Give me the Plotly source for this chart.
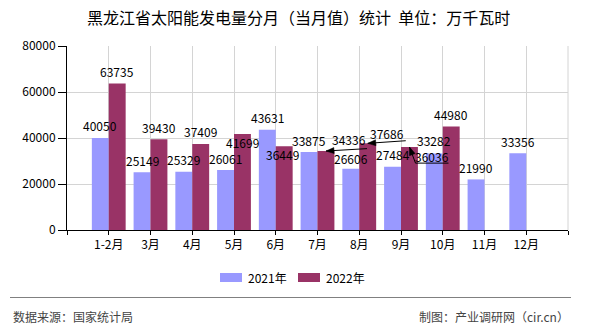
import math
import plotly.graph_objects as go

# ---- data -------------------------------------------------------------
months = ["1-2月", "3月", "4月", "5月", "6月", "7月", "8月", "9月", "10月", "11月", "12月"]
series_names = ["2021年", "2022年"]
values_2021 = [40050, 25149, 25329, 26061, 43631, 33875, 26606, 27484, 33282, 21990, 33356]
values_2022 = [63735, 39430, 37409, 41699, 36449, 34336, 37686, 36036, 44980, None, None]
y_ticks = [0, 20000, 40000, 60000, 80000]

# ---- style ------------------------------------------------------------
W, H = 590, 330
ML, MR, MT, MB = 67, 22, 46, 100
FONT = "Noto Sans CJK SC, Noto Sans, sans-serif"
C2021 = "#9999FF"
C2022 = "#993366"
BAR_HALF = 8.5          # px from slot centre to each bar's centre
LABEL_DY = 12           # default label lift above a bar top (px, up)

# per-label nudges for crowded spots: index -> (dx, dy) in px (dy up)
nudge_2021 = {6: (0, 10.5), 8: (0, 13)}
nudge_2022 = {3: (0, -8), 4: (-1.5, -8), 5: (23, 11.5), 6: (19.5, 9.8), 7: (22, -9.5)}
# leader polylines from the bar top (px offsets, y up); first point gets the arrowhead
leaders_2022 = {
    5: [(0, 0), (41, 2.4)],
    6: [(0, 0), (38, 2.6)],
    7: [(0, 0), (6, -16), (39, -16)],
}
HEAD_LEN, HEAD_HALF_W = 8, 3

plot_w = W - ML - MR
plot_h = H - MT - MB


def px_x(px):
    return (px - ML) / plot_w


def px_y(py):
    return (H - MB - py) / plot_h


xs = list(range(len(months)))

fig = go.Figure()
fig.add_trace(go.Bar(x=xs, y=values_2021, name=series_names[0],
                     marker=dict(color=C2021, line=dict(width=0)), showlegend=False))
fig.add_trace(go.Bar(x=xs, y=values_2022, name=series_names[1],
                     marker=dict(color=C2022, line=dict(width=0)), showlegend=False))

annotations = []
shapes = []


def value_label(i, v, side, dx=0.0, dy=LABEL_DY):
    annotations.append(dict(
        x=i, y=v, xref="x", yref="y", text=str(v), showarrow=False,
        xanchor="center", yanchor="middle",
        xshift=side * BAR_HALF + dx, yshift=dy,
        font=dict(family=FONT, size=12, color="#000000"),
    ))


def leader(i, v, pts):
    """Polyline anchored at a bar top, with a filled arrowhead at its first point."""
    pts = [(BAR_HALF + px, py) for px, py in pts]
    line_path = "M " + " L ".join(f"{px:.2f},{py:.2f}" for px, py in pts)
    common = dict(xref="x", yref="y", xsizemode="pixel", ysizemode="pixel",
                  xanchor=i, yanchor=v)
    shapes.append(dict(type="path", path=line_path,
                       line=dict(color="#000000", width=1), **common))
    (hx, hy), (nx, ny) = pts[0], pts[1]
    d = math.hypot(nx - hx, ny - hy)
    ux, uy = (nx - hx) / d, (ny - hy) / d
    bx, by = hx + ux * HEAD_LEN, hy + uy * HEAD_LEN
    px_, py_ = -uy * HEAD_HALF_W, ux * HEAD_HALF_W
    head_path = (f"M {hx:.2f},{hy:.2f} L {bx + px_:.2f},{by + py_:.2f} "
                 f"L {bx - px_:.2f},{by - py_:.2f} Z")
    shapes.append(dict(type="path", path=head_path, fillcolor="#000000",
                       line=dict(color="#000000", width=0.5), **common))


for i, v in enumerate(values_2021):
    if v is not None:
        dx, dy = nudge_2021.get(i, (0, LABEL_DY))
        value_label(i, v, -1, dx, dy)

for i, v in enumerate(values_2022):
    if v is None:
        continue
    dx, dy = nudge_2022.get(i, (0, LABEL_DY))
    value_label(i, v, +1, dx, dy)
    if i in leaders_2022:
        leader(i, v, leaders_2022[i])

# title
annotations.append(dict(
    xref="paper", yref="paper", x=px_x(298), y=px_y(17),
    text="黑龙江省太阳能发电量分月（当月值）统计  单位：万千瓦时",
    showarrow=False, xanchor="center", yanchor="middle",
    font=dict(family=FONT, size=16, color="#000000"),
))

# legend
legend_items = [(series_names[0], C2021, 220), (series_names[1], C2022, 298)]
for name, color, x0 in legend_items:
    shapes.append(dict(type="rect", xref="paper", yref="paper",
                       x0=px_x(x0), x1=px_x(x0 + 22), y0=px_y(282), y1=px_y(273),
                       fillcolor=color, line=dict(width=0)))
    annotations.append(dict(
        xref="paper", yref="paper", x=px_x(x0 + 26), y=px_y(277.5),
        text=name, showarrow=False, xanchor="left", yanchor="middle",
        font=dict(family=FONT, size=12, color="#000000"),
    ))

# right frame edge
shapes.append(dict(type="line", xref="paper", yref="paper", x0=1, x1=1, y0=0, y1=1,
                   line=dict(color="#d4d4d4", width=1), layer="below"))

# footer
shapes.append(dict(type="line", xref="paper", yref="paper",
                   x0=px_x(10), x1=px_x(571), y0=px_y(297.5), y1=px_y(297.5),
                   line=dict(color="#808080", width=1.2)))
annotations.append(dict(
    xref="paper", yref="paper", x=px_x(11), y=px_y(316),
    text="数据来源：国家统计局", showarrow=False, xanchor="left", yanchor="middle",
    font=dict(family=FONT, size=12, color="#444444"),
))
annotations.append(dict(
    xref="paper", yref="paper", x=px_x(571), y=px_y(316),
    text="制图：产业调研网（cir.cn）", showarrow=False, xanchor="right", yanchor="middle",
    font=dict(family=FONT, size=12, color="#444444"),
))

fig.update_layout(
    width=W, height=H,
    margin=dict(l=ML, r=MR, t=MT, b=MB, pad=0),
    paper_bgcolor="#ffffff", plot_bgcolor="#ffffff",
    barmode="group", bargap=0.19, bargroupgap=0,
    font=dict(family=FONT, size=12, color="#000000"),
    annotations=annotations, shapes=shapes,
    showlegend=False,
    xaxis=dict(
        range=[-1, len(months)],
        tickmode="array",
        tickvals=list(range(-1, len(months) + 1)),
        ticktext=[""] + months + [""],
        showgrid=True, gridcolor="#d4d4d4", gridwidth=1,
        showline=True, linecolor="#000000", linewidth=1,
        ticks="outside", ticklen=4, tickcolor="#000000",
        zeroline=False, fixedrange=True,
        tickfont=dict(family=FONT, size=12, color="#000000"),
    ),
    yaxis=dict(
        range=[0, 80000],
        tickmode="array", tickvals=y_ticks, tickformat="d",
        showgrid=True, gridcolor="#d4d4d4", gridwidth=1,
        showline=True, linecolor="#000000", linewidth=1,
        ticks="outside", ticklen=8, tickcolor="#000000",
        zeroline=False, fixedrange=True,
        tickfont=dict(family=FONT, size=12, color="#000000"),
    ),
)

fig.write_html("out.html", config={"displayModeBar": False})
